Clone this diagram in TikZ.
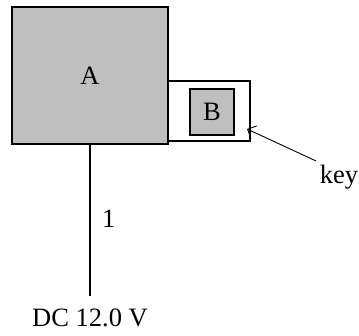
\documentclass[tikz,border=0pt]{standalone}
\usepackage{fontspec}
\setmainfont{Liberation Serif}
\usetikzlibrary{arrows.meta}
\begin{document}
\begin{tikzpicture}[x=1pt,y=-1pt,line width=1.5pt,font=\fontsize{26.5}{30}\selectfont,
  box/.style={draw,fill=gray!50,inner sep=0pt},
  frame/.style={draw,fill=white,inner sep=0pt}]

% Bounding area
\useasboundingbox (0,0) rectangle (359,336);

% Boxes
\node[box,minimum width=156pt,minimum height=137pt] (A) at (90,75.5) {A};
\node[frame,minimum width=82pt,minimum height=60pt] (holder) at (209,111) {};
\node[box,minimum width=44pt,minimum height=46pt] (B) at (212,112) {B};

% Supply line
\coordinate (end) at (90,296);
\draw (A.south) -- (end);
\node[right] (wire) at (98,219) {1};
\node (dc) at (90,318) {DC 12.0 V};

% Key label
\node (key) at (339,177) {key};
\coordinate (tip) at (247,129);
\draw[line width=0.9pt,-{Straight Barb[length=7pt,width=14pt]}] (key.north west) -- (tip);

\end{tikzpicture}
\end{document}
